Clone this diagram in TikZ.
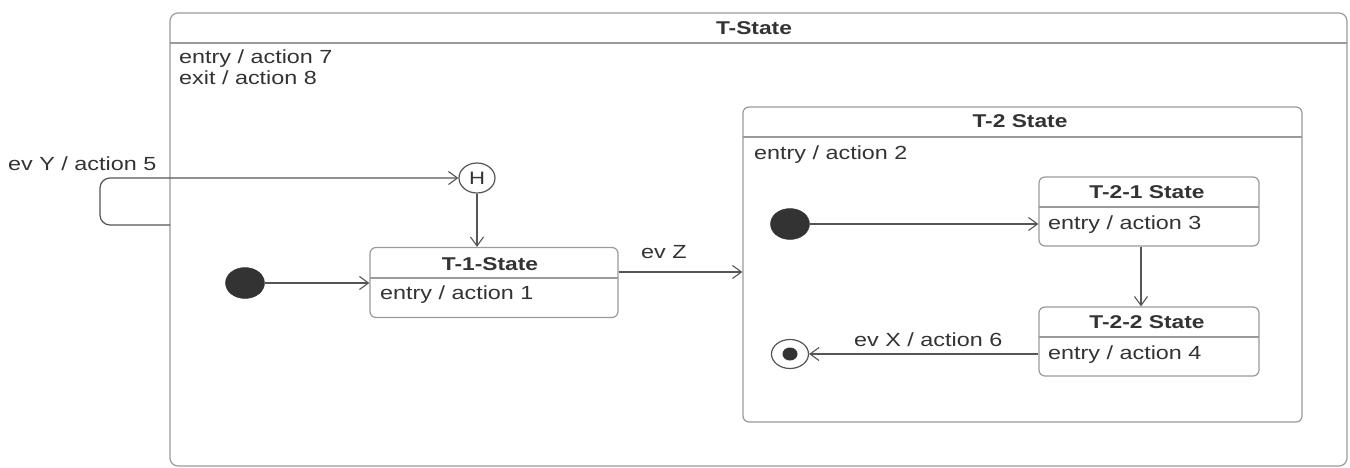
\documentclass[tikz,border=0pt]{standalone}
\usepackage{fontspec}
\setmainfont{Liberation Sans}[FakeStretch=1.23]
\usetikzlibrary{arrows.meta,shapes.geometric}
\definecolor{boxc}{HTML}{9A9A9A}
\definecolor{linec}{HTML}{555555}
\definecolor{txtc}{HTML}{333333}
\tikzset{
  statebox/.style={draw=boxc, line width=1.2pt, rounded corners=6pt, rectangle, inner sep=0pt, fill=white},
  sepline/.style={draw=boxc, line width=1.2pt},
  conn/.style={draw=linec, line width=1.2pt, -{Straight Barb[length=9pt,width=13pt,line width=1.1pt]}},
  lbl/.style={text=txtc, font=\fontsize{19}{22}\selectfont, inner sep=0pt, anchor=base west},
  ttl/.style={text=txtc, font=\fontsize{18.5}{22}\selectfont\bfseries, inner sep=0pt, anchor=base},
  initst/.style={ellipse, fill=txtc, draw=txtc, minimum width=39pt, minimum height=31pt, inner sep=0pt},
}
\begin{document}
\begin{tikzpicture}[x=1pt,y=-1pt]
\useasboundingbox (0,0) rectangle (1350,467);
\fill[white] (0,0) rectangle (1350,467);
\begin{scope}
\clip (0,0) rectangle (1350,467);
% outer T-State
\node[statebox, rounded corners=8pt, minimum width=1177pt, minimum height=453pt] (ts) at (758.5,239.5) {};
\draw[sepline] (170,43) -- (1347,43);
\end{scope}
\node[ttl] (tst) at (754,34) {T-State};
\node[lbl] (ta7) at (179,63) {entry / action 7};
\node[lbl] (ta8) at (179,84) {exit / action 8};

% history
\node[ellipse, draw=linec, line width=1.2pt, fill=white, minimum width=36pt, minimum height=30pt, inner sep=0pt, text=txtc, font=\fontsize{18}{20}\selectfont] (h) at (477,178) {H};

% T-1-State
\node[statebox, minimum width=248pt, minimum height=70pt] (t1) at (494,282.5) {};
\draw[sepline] (370,278) -- (618,278);
\node[ttl] (t1t) at (490,270) {T-1-State};
\node[lbl] (t1a) at (380,299) {entry / action 1};
\node[initst] (i1) at (245,283) {};

% T-2 State
\node[statebox, minimum width=559pt, minimum height=315pt] (t2) at (1022.5,264.5) {};
\draw[sepline] (743,137) -- (1302,137);
\node[ttl] (t2t) at (1020,127) {T-2 State};
\node[lbl] (t2a) at (754,159) {entry / action 2};

% T-2-1
\node[statebox, minimum width=220pt, minimum height=69pt] (t21) at (1149,211.5) {};
\draw[sepline] (1039,207) -- (1259,207);
\node[ttl] (t21t) at (1147,198) {T-2-1 State};
\node[lbl] (t21a) at (1048,229) {entry / action 3};
\node[initst] (i2) at (790,224) {};

% T-2-2
\node[statebox, minimum width=220pt, minimum height=69pt] (t22) at (1149,341.5) {};
\draw[sepline] (1039,337) -- (1259,337);
\node[ttl] (t22t) at (1147,328) {T-2-2 State};
\node[lbl] (t22a) at (1048,359) {entry / action 4};

% final
\node[ellipse, draw=linec, line width=1.2pt, fill=white, minimum width=37pt, minimum height=29pt, inner sep=0pt] (fin) at (790,354) {};
\node[ellipse, fill=txtc, minimum width=15pt, minimum height=13pt, inner sep=0pt] (findot) at (790,354) {};

% connectors
\coordinate (lp) at (170,225);
\draw[conn, rounded corners=10pt] (lp) -- (100,225) -- (100,178) -- (h.west);
\node[lbl] (evy) at (8,170) {ev Y / action 5};
\draw[conn] (h) -- (h |- t1.north);
\draw[conn] (i1) -- (t1.west |- i1);
\coordinate (ez) at (0,272);
\draw[conn] (t1.east |- ez) -- (t2.west |- ez);
\node[lbl] (evz) at (641,258) {ev Z};
\draw[conn] (i2) -- (t21.west |- i2);
\coordinate (dv) at (1141,0);
\draw[conn] (t21.south -| dv) -- (t22.north -| dv);
\draw[conn] (t22.west |- fin) -- (fin);
\node[lbl] (evx) at (854,346) {ev X / action 6};
\end{tikzpicture}
\end{document}
